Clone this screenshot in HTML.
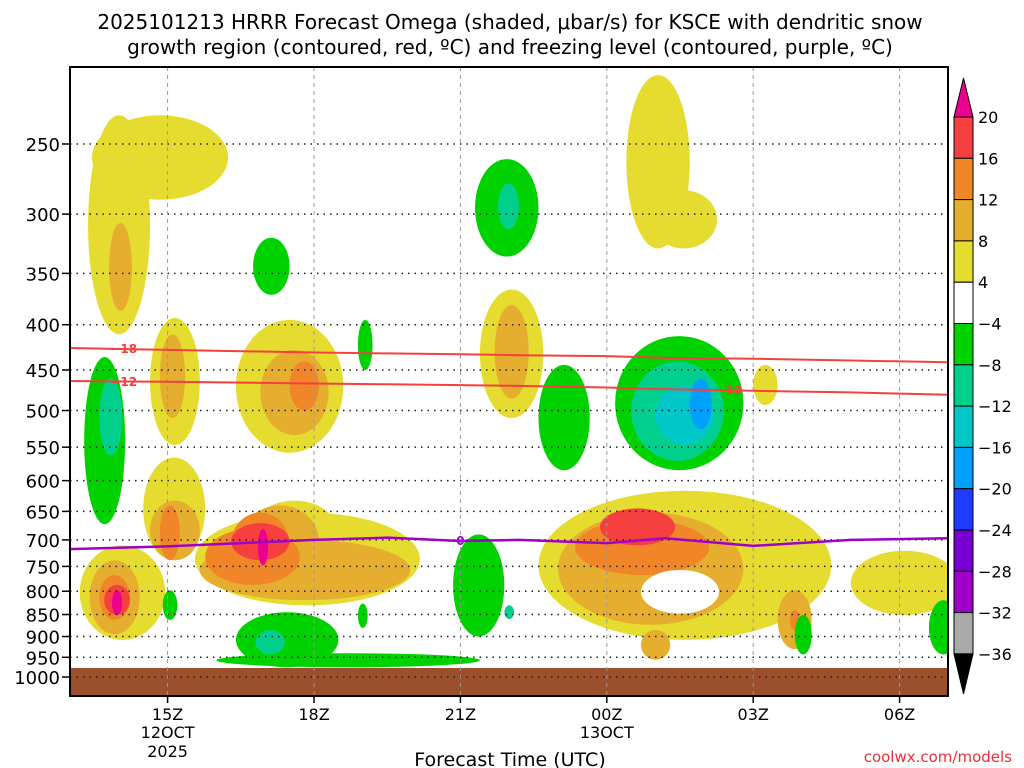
<!DOCTYPE html>
<html><head><meta charset="utf-8"><style>
body{margin:0;background:#fff;width:1024px;height:768px;overflow:hidden}
svg{display:block;font-family:"DejaVu Sans","Liberation Sans",sans-serif}
</style></head><body>
<svg id="chart" width="1024" height="768" viewBox="0 0 1024 768" xmlns="http://www.w3.org/2000/svg">
<text x="510" y="29" font-size="20" text-anchor="middle" fill="#000">2025101213 HRRR Forecast Omega (shaded, μbar/s) for KSCE with dendritic snow</text>
<text x="510" y="54" font-size="20" text-anchor="middle" fill="#000">growth region (contoured, red, ºC) and freezing level (contoured, purple, ºC)</text>
<defs><clipPath id="clip"><rect x="70" y="67" width="878" height="629"/></clipPath></defs>
<g id="shades" clip-path="url(#clip)"></g>
<rect x="70" y="668" width="878" height="28" fill="#9c4f2c"/>
<g id="grid"></g>
<g id="lines" clip-path="url(#clip)"></g>
<rect x="70" y="67" width="878" height="629" fill="none" stroke="#000" stroke-width="2"/>
<g id="axes"></g>
<g id="cbar"></g>
<text x="510" y="766" font-size="19" text-anchor="middle">Forecast Time (UTC)</text>
<text x="1012" y="762" font-size="15" text-anchor="end" fill="#e8303a">coolwx.com/models</text>
</svg>
<script>
// axis data
const pressureTicks=[250,300,350,400,450,500,550,600,650,700,750,800,850,900,950,1000];
const hourTicks=[15,18,21,24,27,30];
const hourLabels=["15Z","18Z","21Z","00Z","03Z","06Z"];
const dateLabels={15:["12OCT","2025"],24:["13OCT"]};
// omega blobs: [hourStart,hourEnd,pTop,pBottom,levelIndex]
// levels: 0 yellow,1 lt orange,2 orange,3 red,4 magenta,-1 green,-2 teal,-3 cyan,-4 blue,9 white
const blobs=[
[13.37,14.64,232,410,0],[13.45,16.24,232,289,0],[13.8,14.27,307,386,1],
[14.64,15.66,393,547,0],[14.84,15.36,410,510,1],
[16.4,18.6,395,558,0],[16.9,18.3,427,533,1],[17.5,18.1,440,500,2],
[16.75,17.5,319,370,-1],[18.9,19.2,395,450,-1],
[21.3,22.6,260,335,-1],[21.77,22.2,277,312,-2],
[21.4,22.7,365,510,0],[21.7,22.4,380,485,1],
[24.4,25.7,209,328,0],[24.9,26.26,282,328,0],
[22.6,23.65,444,584,-1],
[24.17,26.8,412,584,-1],[24.5,26.4,440,570,-2],[25,26.2,468,546,-3],[25.7,26.15,460,525,-4],
[27,27.5,444,493,0],
[13.29,14.13,435,672,-1],[13.6,14.07,460,562,-2],
[13.2,14.95,710,908,0],[14.5,15.77,565,738,0],[15.56,20.17,652,830,0],[16.7,18.5,632,748,0],
[13.4,14.43,738,895,1],[14.64,15.66,632,738,1],[15.66,19.97,700,819,1],[16.5,18.1,640,767,1],
[13.6,14.23,767,862,2],[14.84,15.25,640,738,2],[15.77,17.71,680,787,2],[16.3,17.5,652,767,2],
[13.7,14.23,787,851,3],[16.3,17.5,670,738,3],
[13.86,14.07,798,851,4],[16.85,17.06,680,748,4],
[16.4,18.5,845,975,-1],[16,21.4,940,975,-1],[16.8,17.4,885,943,-2],
[14.9,15.2,798,862,-1],[18.9,19.1,826,880,-1],
[20.85,21.9,690,900,-1],[21.9,22.1,830,860,-2],
[22.6,28.6,616,908,0],[23,26.8,652,873,1],[23.35,26.1,664,767,2],[23.86,25.4,645,710,3],
[24.7,26.3,757,848,9],
[27.5,28.2,798,930,1],[27.75,27.95,840,885,2],[24.7,25.3,885,956,1],
[29,31.2,720,851,0],
[27.85,28.2,851,943,-1],[30.6,31.2,819,943,-1]
];
// contour lines
const lineHours=[13,15,18,19.5,21,22.2,24,25.2,27,29,31];
const minus18=[425,427,430,431,432,433,434,436,437,439,441];
const minus12=[463,464,466,467,468,469,471,473,475,477,480];
const freezing=[717,712,700,696,702,700,706,697,711,700,697];
const colorLevels=["20","16","12","8","4","−4","−8","−12","−16","−20","−24","−28","−32","−36"];
const colorBands=["#f5403f","#f08628","#e5ae2e","#e6dc30","#ffffff","#00d200","#00d08c","#00c8c8","#00a0ff","#1e3cff","#7800d2","#a000c8","#aaaaaa"];

const NS="http://www.w3.org/2000/svg";
const X=h=>70+(h-13)*48.8;
const Y=p=>144+384.5*Math.log(p/250);
const col={0:"#e6dc30",1:"#e5ae2e",2:"#f08628",3:"#f5403f",4:"#ec0090","-1":"#00d200","-2":"#00d08c","-3":"#00c8c8","-4":"#00a0ff",9:"#ffffff"};
function mk(t,a,parent){const e=document.createElementNS(NS,t);for(const k in a)e.setAttribute(k,a[k]);parent.appendChild(e);return e;}
const shades=document.getElementById('shades');
blobs.forEach(b=>{
 const x0=X(b[0]),x1=X(b[1]),y0=Y(b[2]),y1=Y(b[3]);
 const e=mk('ellipse',{cx:(x0+x1)/2,cy:(y0+y1)/2,rx:(x1-x0)/2,ry:(y1-y0)/2,fill:col[b[4]]},shades);
 
 
});
const grid=document.getElementById('grid');
pressureTicks.forEach(p=>{
 const l=mk('line',{x1:70,x2:948,y1:Y(p),y2:Y(p),stroke:"#222","stroke-width":1.5,"stroke-dasharray":"1.5,5"},grid);
 
 
});
hourTicks.forEach(h=>{
 const l=mk('line',{x1:X(h),x2:X(h),y1:67,y2:696,stroke:"#999","stroke-width":1,"stroke-dasharray":"4,4"},grid);
 
 
});
const lines=document.getElementById('lines');
function poly(arr,color,w,name){
 const pts=lineHours.map((h,i)=>X(h)+","+Y(arr[i])).join(" ");
 const e=mk('polyline',{points:pts,fill:"none",stroke:color,"stroke-width":w},lines);
 
 
}
poly(minus18,"#f5403f",2,"minus-18-contour");
poly(minus12,"#f5403f",2,"minus-12-contour");
poly(freezing,"#a000c8",2.5,"freezing-level-contour");
function lab(t,h,p,c,name){const e=mk('text',{x:X(h),y:Y(p)+4,"font-size":12,"font-weight":"bold",fill:c,"text-anchor":"middle"},lines);e.textContent=t;
 }
lab("−18",14.1,426,"#f5403f","minus-18-label");
lab("−12",14.1,464,"#f5403f","minus-12-label");
lab("−12",26.5,474,"#f5403f","minus-12-label-2");
lab("0",21,702,"#a000c8","freezing-label");
const axes=document.getElementById('axes');
pressureTicks.forEach(p=>{
 const t=mk('text',{x:60,y:Y(p)+7,"font-size":18,"text-anchor":"end"},axes);t.textContent=p;
 
 mk('line',{x1:62,x2:70,y1:Y(p),y2:Y(p),stroke:"#000","stroke-width":1.5},axes);
});
hourTicks.forEach((h,i)=>{
 mk('line',{x1:X(h),x2:X(h),y1:696,y2:703,stroke:"#000","stroke-width":1.5},axes);
 const t=mk('text',{x:X(h),y:720,"font-size":16,"text-anchor":"middle"},axes);t.textContent=hourLabels[i];
 
 (dateLabels[h]||[]).forEach((d,j)=>{const s=mk('text',{x:X(h),y:738+j*19,"font-size":16,"text-anchor":"middle"},axes);s.textContent=d;
  });
});
const cb=document.getElementById('cbar');
const cbTop=117,step=41.3,cx0=954,cw=19;
mk('polygon',{points:`${cx0},${cbTop} ${cx0+cw},${cbTop} ${cx0+cw/2},78`,fill:"#ec0090",stroke:"#000"},cb);
colorBands.forEach((c,i)=>{
 const r=mk('rect',{x:cx0,y:cbTop+i*step,width:cw,height:step,fill:c,stroke:"#000","stroke-width":1},cb);
 
});
const cbBot=cbTop+colorBands.length*step;
mk('polygon',{points:`${cx0},${cbBot} ${cx0+cw},${cbBot} ${cx0+cw/2},${cbBot+40}`,fill:"#000",stroke:"#000"},cb);
colorLevels.forEach((l,i)=>{
 const t=mk('text',{x:978,y:cbTop+i*step+6,"font-size":16},cb);t.textContent=l;
 
});
</script>
</body></html>
